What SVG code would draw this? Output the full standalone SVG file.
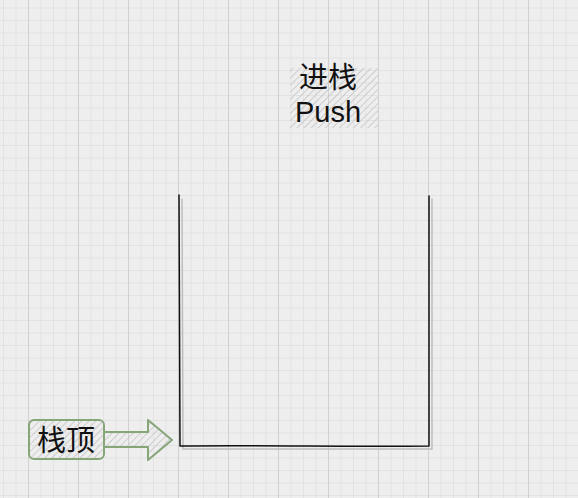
<svg xmlns="http://www.w3.org/2000/svg" width="578" height="498" viewBox="0 0 578 498">
<defs>
<pattern id="minor" x="3" y="7.5" width="12.5" height="12.5" patternUnits="userSpaceOnUse">
<path d="M0.5 0V12.5M0 0.5H12.5" fill="none" stroke="#e2e2e2" stroke-width="1"/>
</pattern>
<pattern id="major" x="3" y="-5" width="50" height="50" patternUnits="userSpaceOnUse">
<path d="M25.5 0V50M0 50.5H50" fill="none" stroke="#d0d0d0" stroke-width="1"/>
</pattern>
<pattern id="hatch" width="5" height="5" patternUnits="userSpaceOnUse" patternTransform="rotate(45)">
<line x1="0" y1="0" x2="0" y2="5" stroke="#c4c4c4" stroke-width="1.6"/>
</pattern>
<style>
.txt{font-family:"Liberation Sans","Noto Sans CJK SC",sans-serif;font-size:29px;fill:#111;text-anchor:middle}
.stk{fill:none;stroke:#111;stroke-width:1.5;stroke-linecap:round}
.shd{fill:none;stroke:#bdbdbd;stroke-width:1.5;stroke-linecap:round}
.grn{stroke:#86a67a;stroke-width:2;fill:url(#hatch)}
</style>
</defs>
<rect width="578" height="498" fill="#eeeeee"/>
<rect width="578" height="498" fill="url(#minor)"/>
<rect width="578" height="498" fill="url(#major)"/>
<g id="connectors">
<g id="stack-shadow">
<path class="shd" d="M182 199L183 449M183 449L432 449M432 449L432 199"/>
</g>
<g id="stack">
<path class="stk" d="M179 195L180 446M180 446C260 445 350 447 429 446M429 446L429 196"/>
</g>
<g id="arrow">
<path class="grn" d="M104 432L148 432L148 420L172 440L148 460L148 447L104 447Z" stroke-linejoin="round"/>
</g>
</g>
<g id="push">
<rect x="290" y="68" width="88" height="60" fill="url(#hatch)"/>
<text class="txt" x="328" y="88">进栈</text>
<text class="txt" x="328" y="122">Push</text>
</g>
<g id="top">
<rect class="grn" x="29" y="420" width="75" height="39" rx="5"/>
<text class="txt" x="66" y="451">栈顶</text>
</g>
</svg>
